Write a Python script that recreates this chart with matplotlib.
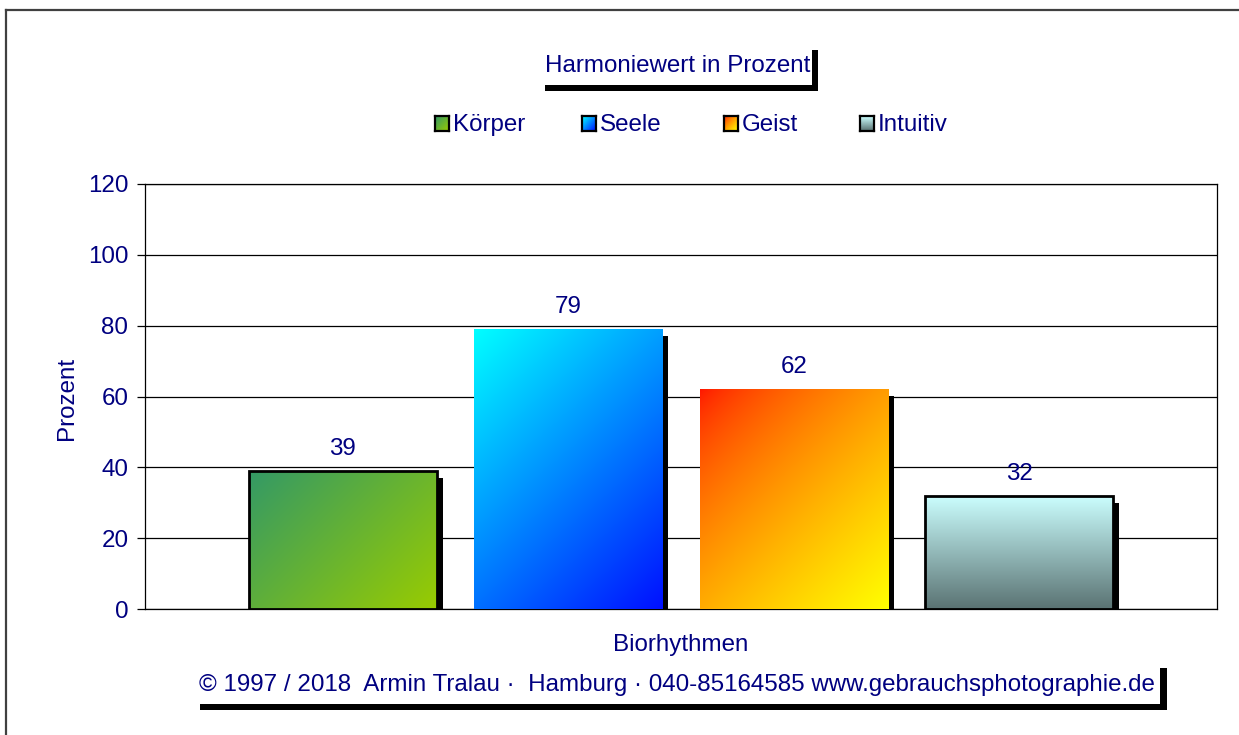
import numpy as np
import matplotlib
matplotlib.use("Agg")
import matplotlib.pyplot as plt
from matplotlib.patches import Rectangle
from matplotlib.lines import Line2D
import matplotlib.transforms as mtransforms

plt.rcParams['font.family'] = ['Liberation Sans', 'DejaVu Sans']

# ---- data ----
series = ["Körper", "Seele", "Geist", "Intuitiv"]
values = [39, 79, 62, 32]
yticks = [0, 20, 40, 60, 80, 100, 120]
title = "Harmoniewert in Prozent"
xlabel = "Biorhythmen"
ylabel = "Prozent"
footer = "© 1997 / 2018  Armin Tralau ·  Hamburg · 040-85164585 www.gebrauchsphotographie.de"

# gradient definitions: (start colour, end colour, direction, gamma)
grad_start = ["#339966", "#00FFFF", "#FF1400", "#CCFFFF"]
grad_end = ["#99CC00", "#0010FF", "#FFFF00", "#5A7373"]
grad_dir = ["diag", "diag", "diag", "vert"]
grad_gamma = [1.0, 1.0, 0.7, 1.0]
bar_edges = [True, False, False, True]

NAVY = "#000080"
FS = 17.4
W, H = 1239, 735
fig = plt.figure(figsize=(W / 100, H / 100), dpi=100)

def fx(x):
    return x / W

def fy(y):
    return 1 - y / H

def hexrgb(h):
    return np.array(matplotlib.colors.to_rgb(h))

def gradient(c0, c1, kind, gamma=1.0, pw=100.0, ph=100.0, n=200):
    u = np.linspace(0, 1, n)[None, :]
    v = np.linspace(0, 1, n)[:, None]
    if kind == "diag":
        t = (u * pw + v * ph) / (pw + ph)
    else:
        t = v * np.ones_like(u)
    t = t ** gamma
    a, b = hexrgb(c0), hexrgb(c1)
    return a[None, None, :] * (1 - t[..., None]) + b[None, None, :] * t[..., None]

# figure frame (top and left only)
fig.add_artist(Line2D([fx(6), 1], [fy(10), fy(10)], color="#404040", lw=1.6, transform=fig.transFigure))
fig.add_artist(Line2D([fx(6), fx(6)], [fy(10), 0], color="#404040", lw=1.6, transform=fig.transFigure))

ax = fig.add_axes([fx(145), fy(609), fx(1217) - fx(145), fy(184) - fy(609)])
ax.set_ylim(0, 120)
ax.set_xlim(-0.877, 3.877)
ax.set_yticks(yticks)
ax.set_xticks([])
ax.yaxis.grid(True, color="black", lw=0.9)
ax.set_axisbelow(True)
for s in ax.spines.values():
    s.set_color("black")
    s.set_linewidth(0.9)
ax.tick_params(axis="y", length=6, width=0.9, pad=6, labelsize=FS, labelcolor=NAVY)

x = np.arange(len(series))
width = 0.834
shadow_tr = mtransforms.offset_copy(ax.transData, fig=fig, x=6, y=-7, units="dots")
ax.bar(x, values, width=width, color="black", transform=shadow_tr, zorder=2)
bars = ax.bar(x, values, width=width, color="none",
              edgecolor=["black" if e else "none" for e in bar_edges],
              linewidth=2.0, zorder=4)
fig.canvas.draw()
for i, b in enumerate(bars):
    bb = b.get_window_extent()
    img = gradient(grad_start[i], grad_end[i], grad_dir[i], grad_gamma[i], bb.width, bb.height)
    im = ax.imshow(img, extent=(b.get_x(), b.get_x() + b.get_width(), 0, b.get_height()),
                   origin="upper", aspect="auto", zorder=3, interpolation="bilinear")
    im.set_clip_path(b)
    ax.annotate(str(values[i]), (b.get_x() + b.get_width() / 2, b.get_height()),
                xytext=(0, 11.5), textcoords="offset points", ha="center", va="baseline",
                fontsize=FS, color=NAVY)
ax.set_xlim(-0.877, 3.877)
ax.set_ylim(0, 120)

fig.text(fx(681), fy(651), xlabel, ha="center", va="baseline", fontsize=FS, color=NAVY)
fig.text(fx(73), fy(398), ylabel, ha="center", va="baseline", rotation=90,
         rotation_mode="anchor", fontsize=FS, color=NAVY)

# title with shadow box
fig.text(fx(545), fy(72), title, ha="left", va="baseline", fontsize=FS, color=NAVY)
fig.add_artist(Rectangle((fx(812), fy(91)), fx(6), fy(50) - fy(91), transform=fig.transFigure,
                         facecolor="black", edgecolor="none"))
fig.add_artist(Rectangle((fx(545), fy(91)), fx(818) - fx(545), fy(85) - fy(91), transform=fig.transFigure,
                         facecolor="black", edgecolor="none"))

# legend
leg_sq_x = [435, 582, 724, 860]
for i, name in enumerate(series):
    sx = leg_sq_x[i]
    lax = fig.add_axes([fx(sx), fy(131), fx(14), fy(116) - fy(131)])
    lax.imshow(gradient(grad_start[i], grad_end[i], grad_dir[i], grad_gamma[i], n=20), aspect="auto",
               origin="upper", interpolation="bilinear")
    lax.set_xticks([])
    lax.set_yticks([])
    for s in lax.spines.values():
        s.set_color("black")
        s.set_linewidth(1.6)
    fig.text(fx(sx + 18), fy(131), name, ha="left", va="baseline", fontsize=FS, color=NAVY)

# footer with shadow box
fig.text(fx(199), fy(691), footer, ha="left", va="baseline", fontsize=FS, color=NAVY)
fig.add_artist(Rectangle((fx(1160), fy(710)), fx(7), fy(668) - fy(710), transform=fig.transFigure,
                         facecolor="black", edgecolor="none"))
fig.add_artist(Rectangle((fx(200), fy(710)), fx(1167) - fx(200), fy(704) - fy(710), transform=fig.transFigure,
                         facecolor="black", edgecolor="none"))

fig.savefig("out.png", dpi=100)
